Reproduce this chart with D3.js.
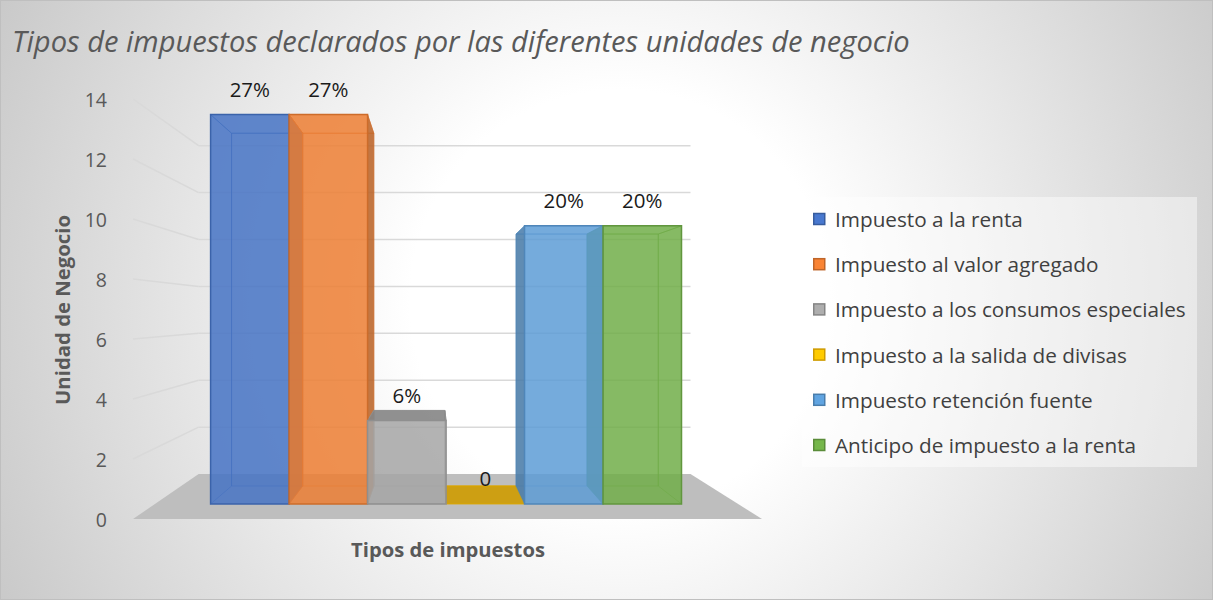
<!DOCTYPE html>
<html><head><meta charset="utf-8">
<script src="https://cdn.jsdelivr.net/npm/d3@7"></script>
<style>body{margin:0;background:#fff} svg{display:block}</style>
</head><body><svg id="c" width="1213" height="600"></svg>
<script>
const categories = ["Impuesto a la renta","Impuesto al valor agregado","Impuesto a los consumos especiales","Impuesto a la salida de divisas","Impuesto retención fuente","Anticipo de impuesto a la renta"];
const values = [14, 14, 3, 0, 10, 10];
const dataLabels = ["27%", "27%", "6%", "0", "20%", "20%"];
const colors = ["#4472C4", "#ED7D31", "#A5A5A5", "#FFC000", "#5B9BD5", "#70AD47"];
const yTicks = [0, 2, 4, 6, 8, 10, 12, 14];
const title = "Tipos de impuestos declarados por las diferentes unidades de negocio";
const xTitle = "Tipos de impuestos";
const yTitle = "Unidad de Negocio";

const W = 1213, H = 600;
const FONT = "'Open Sans', 'Noto Sans', sans-serif";
const svg = d3.select("#c");

// background
const defs = svg.append("defs");
const rg = defs.append("radialGradient").attr("id", "bg")
  .attr("gradientUnits", "userSpaceOnUse").attr("cx", 620).attr("cy", 300).attr("r", 700);
rg.append("stop").attr("offset", 0).attr("stop-color", "#ffffff");
rg.append("stop").attr("offset", 0.3).attr("stop-color", "#ffffff");
rg.append("stop").attr("offset", 1).attr("stop-color", "#c8c8c8");
svg.append("rect").attr("x", 0.5).attr("y", 0.5).attr("width", W - 1).attr("height", H - 1)
  .attr("fill", "url(#bg)").attr("stroke", "#bfbfbf");

// perspective geometry
const VP = [434, 313];
const sF = 0.927, sB = 0.84, sW = 0.782; // bar front, bar back, back wall
const y = d3.scaleLinear().domain([0, 14]).range([519, 99]);
const x = d3.scaleBand().domain(categories).range([193, 701]).padding(0);
const floorX = [133, 762];
const proj = (x0, y0, s) => [VP[0] + (x0 - VP[0]) * s, VP[1] + (y0 - VP[1]) * s];
const line = d3.line();

// gridlines: back wall and side wall
const grid = svg.append("g").attr("stroke", "#d9d9d9").attr("stroke-width", 1.5).attr("fill", "none");
yTicks.filter(t => t > 0).forEach(t => {
  grid.append("path").attr("d", line([proj(floorX[0], y(t), sW), proj(floorX[1], y(t), sW)]));
  grid.append("path").attr("d", line([proj(floorX[0], y(t), 1), proj(floorX[0], y(t), sW)]));
});

// floor
svg.append("path").attr("fill", "#bebebe")
  .attr("d", line([proj(floorX[0], y(0), 1), proj(floorX[1], y(0), 1), proj(floorX[1], y(0), sW), proj(floorX[0], y(0), sW)]) + "Z");

// bars
const bw = x.bandwidth();
const bars = categories.map((c, i) => {
  const xl = x(c), xr = xl + bw, yt = y(values[i]), yb = y(0);
  return {
    i, xl, xr, yt, base: d3.color(colors[i]),
    fTL: proj(xl, yt, sF), fTR: proj(xr, yt, sF), fBL: proj(xl, yb, sF), fBR: proj(xr, yb, sF),
    bTL: proj(xl, yt, sB), bTR: proj(xr, yt, sB), bBL: proj(xl, yb, sB), bBR: proj(xr, yb, sB)
  };
});
const back = svg.append("g");
bars.forEach(b => {
  const edge = b.base.darker(0.4).formatHex();
  const side = b.base.darker(0.7).formatHex();
  const top = b.base.darker(0.6).formatHex();
  const g = back.append("g").attr("stroke", edge).attr("stroke-width", 1).attr("stroke-linejoin", "round").attr("stroke-opacity", 0.55);
  const leftFacing = b.xl > VP[0];   // left face seen by camera
  const rightFacing = b.xr < VP[0];  // right face seen by camera
  const topFacing = b.yt > VP[1];
  // back face
  g.append("path").attr("d", line([b.bTL, b.bTR, b.bBR, b.bBL]) + "Z").attr("fill", b.base.formatHex()).attr("fill-opacity", 0.08);
  // side faces
  g.append("path").attr("d", line([b.fTL, b.bTL, b.bBL, b.fBL]) + "Z").attr("fill", leftFacing ? side : b.base.formatHex()).attr("fill-opacity", leftFacing ? 0.85 : 0.08);
  g.append("path").attr("d", line([b.fTR, b.bTR, b.bBR, b.fBR]) + "Z").attr("fill", rightFacing ? side : b.base.formatHex()).attr("fill-opacity", rightFacing ? 0.85 : 0.08);
  // top face
  g.append("path").attr("d", line([b.fTL, b.fTR, b.bTR, b.bTL]) + "Z")
    .attr("fill", topFacing ? top : b.base.formatHex()).attr("fill-opacity", topFacing ? 0.9 : 0.08)
    .attr("stroke-opacity", topFacing ? 0.9 : 0.55);
});
const front = svg.append("g");
bars.forEach(b => {
  if (values[b.i] === 0) return;
  front.append("path").attr("d", line([b.fTL, b.fTR, b.fBR, b.fBL]) + "Z")
    .attr("fill", b.base.formatHex()).attr("fill-opacity", 0.83)
    .attr("stroke", b.base.darker(0.4).formatHex()).attr("stroke-width", 1.5);
});

// data labels
svg.append("g").selectAll("text").data(bars).join("text")
  .attr("x", b => (b.fTL[0] + b.fTR[0]) / 2)
  .attr("y", b => b.fTL[1] - 26)
  .attr("text-anchor", "middle").attr("dominant-baseline", "central")
  .attr("font-family", FONT).attr("font-size", 20.5).attr("fill", "#1a1a1a")
  .text(b => dataLabels[b.i]);

// y tick labels
svg.append("g").selectAll("text").data(yTicks).join("text")
  .attr("x", 107).attr("y", d => y(d))
  .attr("text-anchor", "end").attr("dominant-baseline", "central")
  .attr("font-family", FONT).attr("font-size", 19.5).attr("fill", "#595959")
  .text(d => d);

function fit(sel, target, base) {
  sel.attr("font-size", base);
  const w = sel.node().getComputedTextLength();
  const fs = base * target / w;
  sel.attr("font-size", fs);
  return fs;
}

// title
const t = svg.append("text").attr("x", 12).attr("y", 52)
  .attr("font-family", FONT).attr("font-style", "italic").attr("fill", "#595959").text(title);
fit(t, 898, 26);

// axis titles
const xt = svg.append("text").attr("x", 448).attr("y", 549)
  .attr("text-anchor", "middle").attr("dominant-baseline", "central")
  .attr("font-family", FONT).attr("font-weight", "bold").attr("fill", "#595959").text(xTitle);
fit(xt, 194, 18);
const yt = svg.append("text").attr("transform", "translate(62,310) rotate(-90)")
  .attr("text-anchor", "middle").attr("dominant-baseline", "central")
  .attr("font-family", FONT).attr("font-weight", "bold").attr("fill", "#595959").text(yTitle);
fit(yt, 190, 18);

// legend
const lg = svg.append("g");
lg.append("rect").attr("x", 802).attr("y", 197).attr("width", 395).attr("height", 270)
  .attr("fill", "#ffffff").attr("fill-opacity", 0.45);
const items = lg.selectAll("g").data(categories).join("g")
  .attr("transform", (d, i) => `translate(813,${219 + i * 45.2})`);
items.append("rect").attr("x", 0.75).attr("y", -5.5).attr("width", 11).attr("height", 11)
  .attr("fill", (d, i) => d3.color(colors[i]).brighter(0.15).formatHex()).attr("stroke", (d, i) => d3.color(colors[i]).darker(0.6).formatHex()).attr("stroke-width", 1.5);
const lt = items.append("text").attr("x", 22).attr("y", 0).attr("dominant-baseline", "central")
  .attr("font-family", FONT).attr("fill", "#404040").text(d => d);
const longest = lt.filter((d, i) => i === 2);
const lfs = fit(longest, 351, 19);
lt.attr("font-size", lfs);
</script></body></html>
